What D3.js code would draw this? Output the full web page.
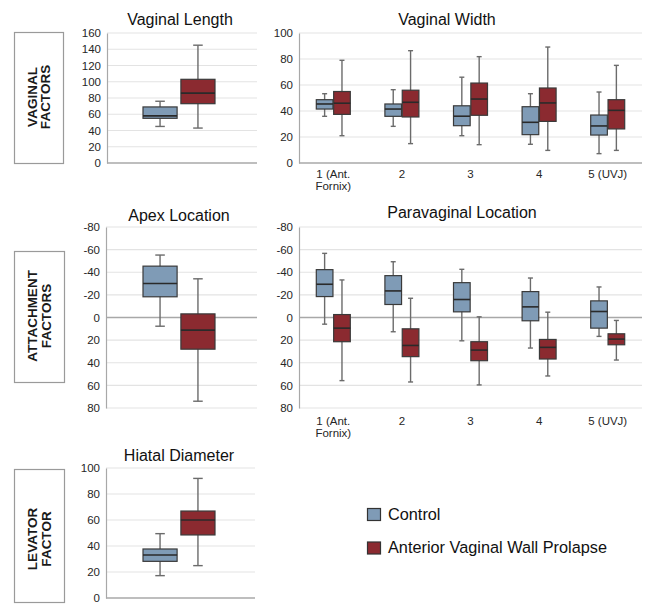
<!DOCTYPE html>
<html>
<head>
<meta charset="utf-8">
<script src="https://cdn.jsdelivr.net/npm/d3@7"></script>
<style>
  html, body { margin: 0; padding: 0; background: #fff; }
  svg { display: block; font-family: "Liberation Sans", Arial, sans-serif; }
</style>
</head>
<body>
<svg id="chart" width="645" height="604"></svg>
<script>
// ---------------- DATA ----------------
// Each box: [min, q1, median, q3, max]
const groups = ["Control", "Anterior Vaginal Wall Prolapse"];
const groupColors = ["#7f9bb6", "#8b2a30"];

const siteCategories = ["1 (Ant. Fornix)", "2", "3", "4", "5 (UVJ)"];

const lengthTicks = [0, 20, 40, 60, 80, 100, 120, 140, 160];
const lengthControl = [45, 55, 58, 69, 76];
const lengthProlapse = [43, 73, 86, 103, 145];

const widthTicks = [0, 20, 40, 60, 80, 100];
const widthControl = [
  [35.9, 41.5, 45.4, 48.7, 53.3],
  [28.2, 35.9, 41.5, 45.4, 56.4],
  [21.0, 28.7, 36.0, 44.0, 66.0],
  [14.4, 21.8, 31.3, 43.3, 53.3],
  [7.2, 21.5, 28.5, 36.9, 54.6]
];
const widthProlapse = [
  [21.0, 37.4, 46.0, 55.0, 79.0],
  [14.9, 35.4, 46.7, 56.0, 86.4],
  [14.1, 36.7, 49.2, 61.5, 81.8],
  [9.7, 32.0, 46.2, 57.7, 89.2],
  [9.7, 26.2, 40.5, 48.7, 75.1]
];

const locationTicks = [-80, -60, -40, -20, 0, 20, 40, 60, 80];
const apexControl = [-55.2, -45.4, -30.1, -18.3, 7.7];
const apexProlapse = [-34.2, -3.2, 11.2, 28.0, 74.0];

const paraControl = [
  [-56.7, -42.3, -29.4, -18.5, 5.9],
  [-49.3, -37.0, -23.5, -11.5, 12.6],
  [-42.6, -30.8, -15.9, -5.0, 20.6],
  [-34.9, -22.9, -9.4, 2.9, 27.0],
  [-27.0, -14.7, -5.3, 9.4, 16.7]
];
const paraProlapse = [
  [-33.2, -2.6, 9.4, 21.4, 55.8],
  [-17.0, 10.0, 24.7, 34.6, 57.0],
  [-0.6, 21.4, 28.8, 38.2, 59.6],
  [-4.7, 19.4, 26.4, 36.7, 51.7],
  [2.6, 14.4, 19.1, 24.1, 37.6]
];

const hiatalTicks = [0, 20, 40, 60, 80, 100];
const hiatalControl = [17.2, 28.2, 33.1, 37.7, 49.5];
const hiatalProlapse = [24.9, 48.5, 60.0, 66.9, 92.0];

const rowLabels = [["VAGINAL", "FACTORS"], ["ATTACHMENT", "FACTORS"], ["LEVATOR", "FACTOR"]];

// ---------------- DRAWING ----------------
const svg = d3.select("#chart");

const GRID = "#e3e3e3";
const AXIS = "#a8a8a8";
const TXT = "#262626";

function drawPanel(cfg) {
  const g = svg.append("g");
  const y = d3.scaleLinear().domain(cfg.domain).range([cfg.y1, cfg.y0]);
  if (cfg.inverted) y.range([cfg.y0, cfg.y1]);

  // gridlines
  g.append("g").selectAll("line").data(cfg.ticks).join("line")
    .attr("x1", cfg.x0).attr("x2", cfg.x1)
    .attr("y1", d => y(d)).attr("y2", d => y(d))
    .attr("stroke", d => (d === 0 ? AXIS : GRID))
    .attr("stroke-width", d => (d === 0 ? 1.6 : 1.2));

  // y axis
  const ya = g.append("g").attr("transform", `translate(${cfg.x0},0)`)
    .call(d3.axisLeft(y).tickValues(cfg.ticks).tickSize(0).tickPadding(6).tickFormat(d => String(d)));
  ya.select(".domain").attr("stroke", AXIS).attr("stroke-width", 1.2);
  ya.selectAll("text").attr("font-size", 11.5).attr("fill", TXT);

  // title
  g.append("text").attr("x", cfg.titleX).attr("y", cfg.titleY)
    .attr("text-anchor", "middle").attr("font-size", 16).attr("fill", "#111")
    .text(cfg.title);

  // x scales
  let cats, outer;
  if (cfg.categories) {
    cats = cfg.categories;
    outer = d3.scaleBand().domain(cats).range([cfg.x0, cfg.x1]);
  } else {
    cats = ["all"];
    outer = d3.scaleBand().domain(cats).range([cfg.x0 + cfg.singleStart, cfg.x0 + cfg.singleEnd]);
  }
  const inner = d3.scaleBand().domain(groups);
  if (cfg.categories) {
    const bw = outer.bandwidth();
    inner.range([bw / 2 - 17, bw / 2 + 17]).paddingInner(0.04);
  } else {
    inner.range([0, outer.bandwidth()]).paddingInner(0.1);
  }

  // x-axis labels
  if (cfg.categories) {
    const xa = g.append("g").attr("transform", `translate(0,${cfg.y1})`)
      .call(d3.axisBottom(outer).tickSize(0).tickPadding(0).tickFormat(() => ""));
    xa.select(".domain").remove();
    xa.selectAll(".tick text").remove();
    xa.selectAll(".tick").each(function(d) {
      const parts = d.includes(". ") ? [d.split(". ")[0] + ".", d.split(". ")[1]] : [d];
      const t = d3.select(this).append("text")
        .attr("text-anchor", "middle").attr("font-size", 11.5).attr("fill", TXT)
        .attr("y", cfg.xLabelDy);
      parts.forEach((p, i) => t.append("tspan").attr("x", 0).attr("dy", i === 0 ? 0 : 12).text(p));
    });
  }

  // boxes
  const seriesList = [cfg.control, cfg.prolapse];
  cats.forEach((c, ci) => {
    groups.forEach((grp, gi) => {
      const v = cfg.categories ? seriesList[gi][ci] : seriesList[gi];
      const [mn, q1, md, q3, mx] = v;
      const bx = outer(c) + inner(grp);
      const bw = inner.bandwidth();
      const cx = bx + bw / 2;
      const cap = Math.max(5, bw * 0.28);
      const bg = g.append("g");
      bg.append("line").attr("x1", cx).attr("x2", cx).attr("y1", y(mn)).attr("y2", y(mx))
        .attr("stroke", "#6b6b6b").attr("stroke-width", 1.4);
      [mn, mx].forEach(w => bg.append("line")
        .attr("x1", cx - cap / 2).attr("x2", cx + cap / 2).attr("y1", y(w)).attr("y2", y(w))
        .attr("stroke", "#6b6b6b").attr("stroke-width", 1.4));
      const top = Math.min(y(q1), y(q3)), h = Math.abs(y(q1) - y(q3));
      bg.append("rect").attr("x", bx).attr("y", top).attr("width", bw).attr("height", h)
        .attr("fill", groupColors[gi]).attr("stroke", "#3a3a3a").attr("stroke-width", 1.2);
      bg.append("line").attr("x1", bx).attr("x2", bx + bw).attr("y1", y(md)).attr("y2", y(md))
        .attr("stroke", "#2a2a2a").attr("stroke-width", 1.6);
    });
  });
}

drawPanel({ title: "Vaginal Length", titleX: 180, titleY: 25, x0: 107, x1: 257, y0: 33, y1: 163,
  domain: [0, 160], ticks: lengthTicks, singleStart: 36, singleEnd: 108,
  control: lengthControl, prolapse: lengthProlapse });

drawPanel({ title: "Vaginal Width", titleX: 447, titleY: 25, x0: 299, x1: 642, y0: 33, y1: 163,
  domain: [0, 100], ticks: widthTicks, categories: siteCategories, xLabelDy: 15,
  control: widthControl, prolapse: widthProlapse });

drawPanel({ title: "Apex Location", titleX: 179, titleY: 221, x0: 106, x1: 257, y0: 227, y1: 408,
  domain: [-80, 80], inverted: true, ticks: locationTicks, singleStart: 37, singleEnd: 109,
  control: apexControl, prolapse: apexProlapse });

drawPanel({ title: "Paravaginal Location", titleX: 462, titleY: 218, x0: 299, x1: 642, y0: 227, y1: 408,
  domain: [-80, 80], inverted: true, ticks: locationTicks, categories: siteCategories, xLabelDy: 17,
  control: paraControl, prolapse: paraProlapse });

drawPanel({ title: "Hiatal Diameter", titleX: 179, titleY: 461, x0: 106, x1: 255, y0: 468, y1: 598,
  domain: [0, 100], ticks: hiatalTicks, singleStart: 37, singleEnd: 109,
  control: hiatalControl, prolapse: hiatalProlapse });

// row label boxes
const rowBoxes = [
  { x: 14, y: 32, w: 49, h: 131, cy: 97 },
  { x: 14, y: 251, w: 50, h: 131, cy: 316 },
  { x: 14, y: 469, w: 50, h: 133, cy: 539 }
];
rowBoxes.forEach((b, i) => {
  svg.append("rect").attr("x", b.x + 0.5).attr("y", b.y + 0.5).attr("width", b.w).attr("height", b.h)
    .attr("fill", "#fff").attr("stroke", "#9a9a9a").attr("stroke-width", 1.2);
  const cx = b.x + b.w / 2;
  const t = svg.append("text").attr("transform", `translate(${cx},${b.cy}) rotate(-90)`)
    .attr("text-anchor", "middle").attr("font-size", 13.5).attr("font-weight", "bold").attr("fill", "#1a1a1a");
  rowLabels[i].forEach((line, li) => t.append("tspan").attr("x", 0)
    .attr("y", li === 0 ? -2 : 11.5).text(line));
});

// legend
const legend = svg.append("g");
groups.forEach((grp, i) => {
  const ly = 508 + i * 33.5;
  legend.append("rect").attr("x", 367.5).attr("y", ly + 0.5).attr("width", 13).attr("height", 12)
    .attr("fill", groupColors[i]).attr("stroke", "#333").attr("stroke-width", 1.2);
  legend.append("text").attr("x", 388).attr("y", ly + 11.5).attr("font-size", 16.3).attr("fill", "#111")
    .text(grp);
});
</script>
</body>
</html>
